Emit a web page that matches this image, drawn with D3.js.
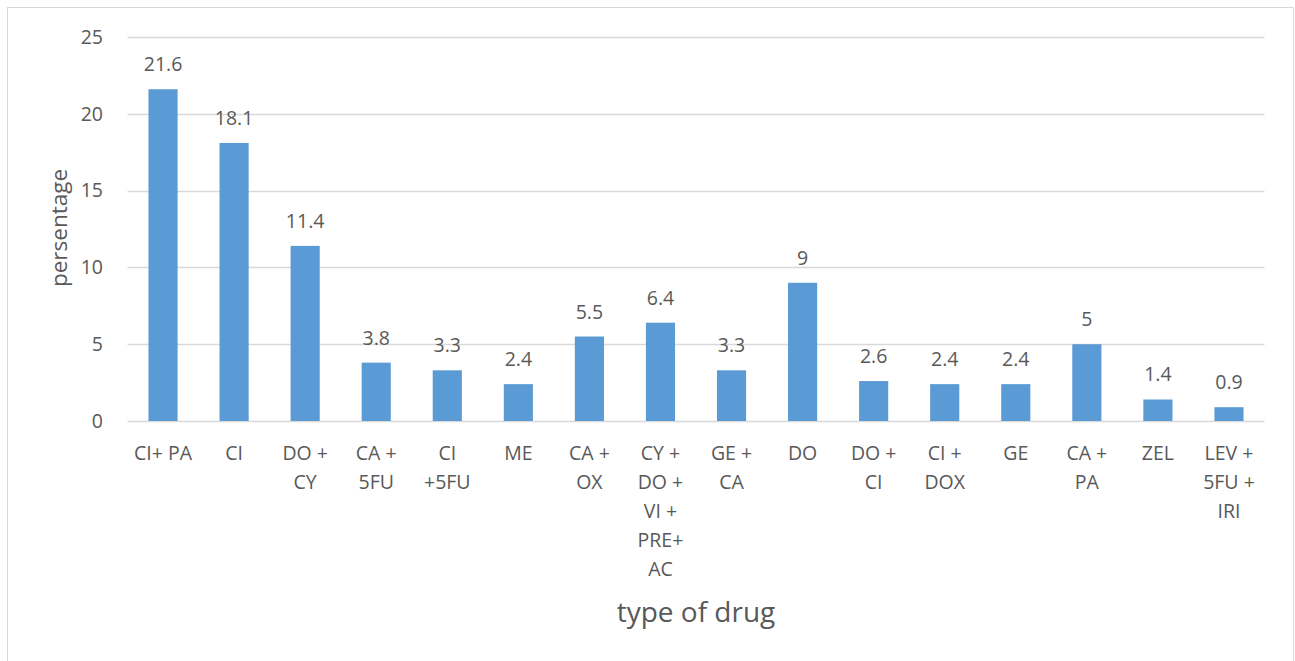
<!DOCTYPE html>
<html><head><meta charset="utf-8">
<script src="https://cdn.jsdelivr.net/npm/d3@7"></script>
<style>body{margin:0;background:#fff}svg{display:block}text{font-family:"Open Sans",sans-serif;fill:#595959}</style>
</head><body><svg id="c" width="1295" height="661"></svg>
<script>
const categories = ["CI+ PA","CI","DO + CY","CA + 5FU","CI +5FU","ME","CA + OX","CY + DO + VI + PRE+ AC","GE + CA","DO","DO + CI","CI + DOX","GE","CA + PA","ZEL","LEV + 5FU + IRI"];
const categoryLines = [["CI+ PA"],["CI"],["DO +","CY"],["CA +","5FU"],["CI","+5FU"],["ME"],["CA +","OX"],["CY +","DO +","VI +","PRE+","AC"],["GE +","CA"],["DO"],["DO +","CI"],["CI +","DOX"],["GE"],["CA +","PA"],["ZEL"],["LEV +","5FU +","IRI"]];
const values = [21.6,18.1,11.4,3.8,3.3,2.4,5.5,6.4,3.3,9,2.6,2.4,2.4,5,1.4,0.9];
const yTicks = [0,5,10,15,20,25];

const svg = d3.select("#c");
svg.append("rect").attr("x",7.5).attr("y",7.5).attr("width",1286).attr("height",660).attr("fill","none").attr("stroke","#d9d9d9");

const x = d3.scaleBand().domain(categories).range([127.5,1264.5]).paddingInner(0.59).paddingOuter(0.295);
const y = d3.scaleLinear().domain([0,25]).range([421,37]);

svg.append("g").selectAll("line").data(yTicks).join("line")
  .attr("x1",127.5).attr("x2",1264.5).attr("y1",d=>Math.round(y(d))+0.5).attr("y2",d=>Math.round(y(d))+0.5)
  .attr("stroke","#d9d9d9").attr("stroke-width",1.3);

svg.append("g").selectAll("text").data(yTicks).join("text")
  .attr("x",103).attr("y",d=>y(d)).attr("dy","0.35em").attr("text-anchor","end")
  .attr("font-size",19.5).text(d=>d);

svg.append("g").selectAll("rect").data(values).join("rect")
  .attr("x",(d,i)=>x(categories[i])).attr("width",x.bandwidth())
  .attr("y",d=>y(d)).attr("height",d=>y(0)-y(d)).attr("fill","#5b9bd5");

svg.append("g").selectAll("text").data(values).join("text")
  .attr("x",(d,i)=>x(categories[i])+x.bandwidth()/2).attr("y",d=>y(d)-18)
  .attr("text-anchor","middle").attr("font-size",19.5).text(d=>d);

const lab = svg.append("g").selectAll("text").data(categoryLines).join("text")
  .attr("text-anchor","middle").attr("font-size",19.5);
lab.each(function(lines,i){
  const t = d3.select(this);
  lines.forEach((l,j)=>t.append("tspan").attr("x",x(categories[i])+x.bandwidth()/2).attr("y",460+j*29).text(l));
});

svg.append("text").attr("x",696).attr("y",622).attr("text-anchor","middle").attr("font-size",28).text("type of drug");
svg.append("text").attr("transform","translate(67,228) rotate(-90)").attr("text-anchor","middle").attr("font-size",22.5).text("persentage");
</script></body></html>
